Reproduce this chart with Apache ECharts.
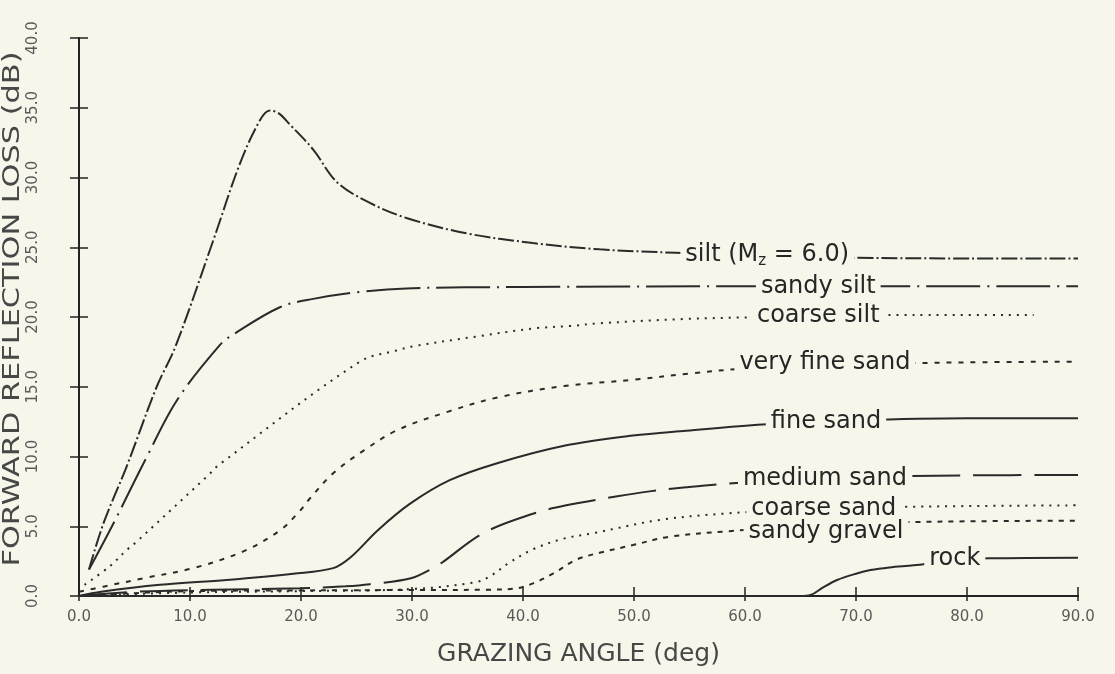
<!DOCTYPE html>
<html><head><meta charset="utf-8">
<script src="https://cdn.jsdelivr.net/npm/echarts@6/dist/echarts.min.js"></script>
<style>html,body{margin:0;padding:0;background:#f7f6ea;}#c{width:1115px;height:674px;}</style>
</head><body><div id="c"></div>
<script>
// ---- data (x: grazing angle deg, y: loss dB) ----
const silt = [[0.9,1.9],[2.2,5.2],[4.3,9.3],[7.0,15.0],[8.7,17.9],[12.1,25.5],[14.5,31.0],[16.3,34.1],[17.2,34.8],[18.0,34.6],[19.0,33.8],[21.1,32.0],[23.2,29.7],[25.9,28.3],[29.5,27.1],[34.9,26.0],[40.9,25.3],[46.9,24.85],[53.8,24.6],[60,24.4],[70,24.25],[80,24.2],[90,24.2]];
const sandySilt = [[0.9,1.9],[3.1,5.2],[6.0,9.8],[8.8,14.0],[12.7,18.0],[14.0,18.8],[18.1,20.7],[21.1,21.3],[25.3,21.8],[29.5,22.05],[40,22.15],[60,22.2],[90,22.2]];
const coarseSilt = [[0.5,0.8],[2.8,2.15],[4.3,3.3],[5.2,3.9],[11.7,8.7],[12.6,9.4],[25.3,16.8],[28.6,17.6],[30.1,17.9],[35.8,18.6],[41.2,19.2],[44.2,19.35],[46.9,19.55],[54.4,19.85],[62,20.0],[75,20.15],[86,20.15]];
const veryFineSand = [[0,0.3],[2.2,0.67],[5.8,1.27],[10.3,2.0],[14.8,3.2],[18.1,4.7],[19.9,6.1],[20.7,6.9],[22.9,8.8],[25.6,10.4],[28.7,11.9],[33.2,13.2],[37.8,14.25],[43.7,15.05],[49.9,15.5],[55,15.95],[60,16.3],[70,16.6],[80,16.75],[90,16.8]];
const fineSand = [[0,0],[2,0.3],[7.3,0.8],[13.3,1.15],[19.3,1.6],[22.9,2.0],[24.5,2.8],[26.9,4.7],[29.8,6.6],[33.4,8.3],[37.6,9.5],[43.6,10.75],[49.9,11.5],[54.7,11.85],[61.6,12.3],[70,12.6],[80,12.75],[90,12.75]];
const mediumSand = [[0,0],[5,0.3],[12,0.45],[20,0.55],[24,0.7],[26.2,0.85],[29.9,1.27],[31.9,2.0],[32.8,2.45],[36.4,4.5],[40.9,5.9],[43.9,6.5],[48.5,7.15],[51.4,7.5],[54.7,7.8],[59.2,8.1],[70,8.5],[80,8.65],[90,8.67]];
const coarseSand = [[0,0],[10,0.25],[20,0.35],[30,0.5],[35.8,1.0],[37.2,1.5],[38.7,2.35],[40.9,3.35],[43.6,4.1],[46.3,4.5],[52.3,5.45],[58,5.9],[65,6.2],[75,6.4],[90,6.5]];
const sandyGravel = [[0,0],[10,0.35],[20,0.4],[30,0.43],[36.6,0.45],[39.4,0.55],[40.9,0.9],[42.7,1.6],[44.8,2.6],[46.9,3.1],[49.9,3.65],[53.2,4.25],[58.6,4.65],[65,5.0],[75,5.3],[90,5.4]];
const rock = [[0,0],[65,0],[65.9,0.07],[67,0.6],[68.3,1.15],[70,1.6],[71.3,1.86],[73,2.05],[75.2,2.2],[78,2.45],[82,2.7],[90,2.75]];

const seriesNames = ['silt (Mz = 6.0)','sandy silt','coarse silt','very fine sand','fine sand','medium sand','coarse sand','sandy gravel','rock'];
const xTicks = [0,10,20,30,40,50,60,70,80,90];
const yTicks = [0,5,10,15,20,25,30,35,40];
const xTitle = 'GRAZING ANGLE (deg)';
const yTitle = 'FORWARD REFLECTION LOSS (dB)';
// ------------------------------------------------------------------------

const BG = '#f7f6ea';
const INK = '#2a2a2a';
const FONT = 'DejaVu Sans';

function yAt(arr, x){
  for (let i=1;i<arr.length;i++){
    if (arr[i][0] >= x){
      const a=arr[i-1], b=arr[i];
      return a[1] + (b[1]-a[1])*(x-a[0])/(b[0]-a[0]);
    }
  }
  return arr[arr.length-1][1];
}

const specs = [
  {data: silt, dash:[16,3,2,3], text:'{a|silt (M}{s|z}{a| = 6.0)}', lx:62.0, dy:-1},
  {data: sandySilt, dash:[54,7,2,7], text:'sandy silt', lx:66.6, dy:0},
  {data: coarseSilt, dash:[2,6], text:'coarse silt', lx:66.6, dy:0},
  {data: veryFineSand, dash:[5,7], text:'very fine sand', lx:67.2, dy:-3},
  {data: fineSand, dash:'solid', text:'fine sand', lx:67.3, dy:0},
  {data: mediumSand, dash:[48,13], text:'medium sand', lx:67.2, dy:0},
  {data: coarseSand, dash:[2,6], text:'coarse sand', lx:67.1, dy:0},
  {data: sandyGravel, dash:[5,6], text:'sandy gravel', lx:67.3, dy:6},
  {data: rock, dash:'solid', text:'rock', lx:78.9, dy:-2}
];

const series = specs.map((s,i)=>({
  name: seriesNames[i],
  type:'line',
  data: s.data,
  symbol:'none',
  smooth:0.35,
  z: 3,
  lineStyle:{color:INK, width:2, type:s.dash},
  markPoint:{
    symbol:'rect', symbolSize:1, silent:true, animation:false,
    itemStyle:{color:BG},
    z: 6,
    data:[{
      coord:[s.lx, yAt(s.data, s.lx)],
      label:{
        show:true, position:'inside', offset:[0,s.dy],
        formatter:s.text,
        backgroundColor:BG, padding:[0,5,0,5],
        fontSize:24, color:'#262626', fontFamily:FONT,
        rich:{a:{fontSize:24, color:'#262626', fontFamily:FONT},
              s:{fontSize:15, color:'#262626', fontFamily:FONT, padding:[12,0,0,0]}}
      }
    }]
  }
}));

const chart = echarts.init(document.getElementById('c'), null, {renderer:'canvas'});
chart.setOption({
  backgroundColor: BG,
  animation:false,
  grid:{left:79, right:37, top:38, bottom:78, show:false, containLabel:false, outerBoundsMode:'none'},
  graphic:[{
    type:'text', x:13, y:309, rotation:Math.PI/2, scaleX:1.32, silent:true,
    style:{text:yTitle, fontSize:23, fontFamily:FONT, fill:'#474747',
           textAlign:'center', textVerticalAlign:'middle', align:'center', verticalAlign:'middle'}
  }],
  xAxis:[{
    type:'value', min:xTicks[0], max:xTicks[xTicks.length-1], interval:10,
    name:xTitle, nameLocation:'middle', nameGap:46,
    nameTextStyle:{fontSize:25, color:'#474747', fontFamily:FONT},
    axisLine:{show:true, lineStyle:{color:'#222', width:2}},
    axisTick:{show:true, inside:true, length:9, lineStyle:{color:'#222', width:1.5}},
    axisLabel:{fontSize:15, color:'#5a5a5a', margin:14, fontFamily:FONT,
      formatter:v=>v.toFixed(1)},
    splitLine:{show:false}
  },{
    type:'value', position:'top', min:0, max:90, interval:10,
    axisLine:{show:true, lineStyle:{color:'#222', width:2}},
    axisTick:{show:true, inside:true, length:5, lineStyle:{color:'#222', width:1.5}},
    axisLabel:{show:false}, splitLine:{show:false}
  }],
  yAxis:[{
    type:'value', min:yTicks[0], max:yTicks[yTicks.length-1], interval:5,
    axisLine:{show:true, lineStyle:{color:'#222', width:2}},
    axisTick:{show:true, inside:true, length:9, lineStyle:{color:'#222', width:1.5}},
    axisLabel:{rotate:90, fontSize:15, color:'#5a5a5a', margin:38, fontFamily:FONT,
      formatter:v=>v.toFixed(1)},
    splitLine:{show:false}
  },{
    type:'value', position:'right', min:0, max:40, interval:5,
    axisLine:{show:true, lineStyle:{color:'#222', width:2}},
    axisTick:{show:true, inside:true, length:9, lineStyle:{color:'#222', width:1.5}},
    axisLabel:{show:false}, splitLine:{show:false}
  }],
  series: series
});
</script></body></html>
